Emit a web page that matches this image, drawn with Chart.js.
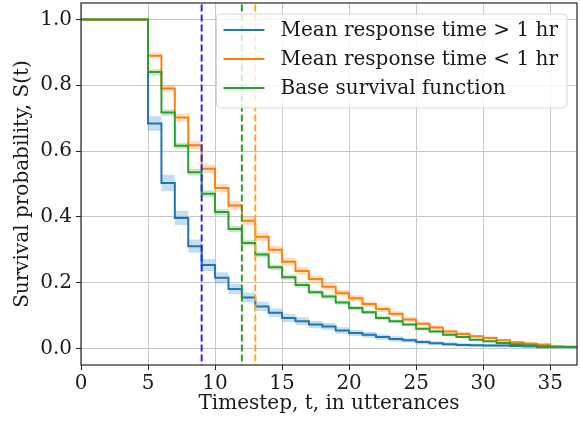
<!DOCTYPE html>
<html>
<head>
<meta charset="utf-8">
<script src="https://cdn.jsdelivr.net/npm/chart.js@4.4.0/dist/chart.umd.min.js"></script>
<style>
  html, body { margin: 0; padding: 0; background: #fff; }
  #wrap { width: 580px; height: 421px; position: relative; }
</style>
</head>
<body>
<div id="wrap"><canvas id="km"></canvas></div>
<script>
// event times (utterances)
var times = [0, 5, 6, 7, 8, 9, 10, 11, 12, 13, 14, 15, 16, 17, 18, 19, 20, 21, 22, 23, 24, 25, 26, 27, 28, 29, 30, 31, 32, 33, 34, 35, 36, 37];

// mean response time > 1 hr
var slowS = [1.0, 0.684, 0.503, 0.397, 0.311, 0.254, 0.215, 0.181, 0.155, 0.128, 0.109, 0.093, 0.083, 0.073, 0.067, 0.055, 0.047, 0.042, 0.035, 0.029, 0.025, 0.020, 0.016, 0.013, 0.011, 0.010, 0.009, 0.009, 0.008, 0.007, 0.005, 0.005, 0.005, 0.005];
var slowErr = [0, 0.022, 0.025, 0.022, 0.020, 0.018, 0.017, 0.016, 0.015, 0.014, 0.013, 0.012, 0.012, 0.011, 0.011, 0.010, 0.009, 0.009, 0.008, 0.008, 0.007, 0.007, 0.006, 0.006, 0.005, 0.005, 0.005, 0.005, 0.005, 0.005, 0.006, 0.006, 0.006, 0.006];

// mean response time < 1 hr (stops at t = 36)
var fastS = [1.0, 0.890, 0.790, 0.702, 0.618, 0.546, 0.488, 0.435, 0.388, 0.340, 0.300, 0.264, 0.236, 0.211, 0.188, 0.168, 0.153, 0.135, 0.120, 0.106, 0.088, 0.075, 0.064, 0.052, 0.044, 0.037, 0.032, 0.025, 0.019, 0.015, 0.012, 0.007, 0.005];
var fastErr = [0, 0.009, 0.011, 0.012, 0.013, 0.013, 0.013, 0.013, 0.013, 0.013, 0.012, 0.012, 0.012, 0.011, 0.011, 0.010, 0.010, 0.009, 0.009, 0.008, 0.008, 0.007, 0.007, 0.006, 0.006, 0.005, 0.005, 0.004, 0.004, 0.004, 0.003, 0.003, 0.003];

// base survival function
var baseS = [1.0, 0.840, 0.717, 0.616, 0.536, 0.470, 0.415, 0.363, 0.321, 0.286, 0.247, 0.217, 0.193, 0.171, 0.158, 0.140, 0.123, 0.110, 0.093, 0.083, 0.073, 0.060, 0.052, 0.042, 0.035, 0.027, 0.022, 0.017, 0.013, 0.010, 0.007, 0.005, 0.005, 0.005];
var baseErr = [0, 0.009, 0.010, 0.010, 0.010, 0.010, 0.010, 0.009, 0.009, 0.009, 0.008, 0.008, 0.008, 0.007, 0.007, 0.007, 0.006, 0.006, 0.006, 0.005, 0.005, 0.005, 0.004, 0.004, 0.004, 0.003, 0.003, 0.003, 0.003, 0.002, 0.002, 0.002, 0.002, 0.002];

// median survival markers
var medianTimes = [9, 12, 13];
var medianColors = ['#2626ff', '#2ca02c', '#ffa520'];

var seriesLabels = ['Mean response time > 1 hr', 'Mean response time < 1 hr', 'Base survival function'];
var seriesColors = ['#1f77b4', '#ff7f0e', '#2ca02c'];
var bandColors = ['rgba(31,119,180,0.25)', 'rgba(255,127,14,0.25)', 'rgba(44,160,44,0.25)'];

var xTicks = [0, 5, 10, 15, 20, 25, 30, 35];
var yTicks = [0.0, 0.2, 0.4, 0.6, 0.8, 1.0];

var FONT = 'DejaVu Serif';
var FS = 20;

function pts(vals, off, sign) {
  return vals.map(function(v, i) {
    return { x: times[i], y: v + (off ? sign * off[i] : 0) };
  });
}

var datasets = [];
var allS = [slowS, fastS, baseS];
var allErr = [slowErr, fastErr, baseErr];
var ord = 20;
for (var s = 0; s < 3; s++) {
  var upIdx = datasets.length;
  datasets.push({
    data: pts(allS[s], allErr[s], 1),
    stepped: true, borderWidth: 0, pointRadius: 0,
    backgroundColor: bandColors[s], fill: upIdx + 1, order: ord--
  });
  datasets.push({
    data: pts(allS[s], allErr[s], -1),
    stepped: true, borderWidth: 0, pointRadius: 0, fill: false, order: ord--
  });
  datasets.push({
    label: seriesLabels[s],
    data: pts(allS[s]),
    stepped: true, borderColor: seriesColors[s], borderWidth: 2,
    pointRadius: 0, fill: false, order: ord--
  });
}
medianTimes.forEach(function(t, i) {
  datasets.push({
    data: [{ x: t, y: -0.1 }, { x: t, y: 1.1 }],
    borderColor: medianColors[i], borderWidth: 2, borderDash: [7, 3],
    pointRadius: 0, fill: false, order: 1
  });
});

var framePlugin = {
  id: 'frame',
  afterDatasetsDraw: function(chart) {
    var a = chart.chartArea, ctx = chart.ctx;
    ctx.save();
    ctx.strokeStyle = '#262626';
    ctx.lineWidth = 1.2;
    ctx.strokeRect(a.left, a.top, a.right - a.left, a.bottom - a.top);
    ctx.restore();
  }
};

var legendPlugin = {
  id: 'mplLegend',
  afterDraw: function(chart) {
    var a = chart.chartArea, ctx = chart.ctx;
    ctx.save();
    ctx.font = FS + 'px "' + FONT + '"';
    var tw = 0;
    seriesLabels.forEach(function(l) { tw = Math.max(tw, ctx.measureText(l).width); });
    var rowH = 29, pad = 7, hLen = 41, gap = 16;
    var w = pad + hLen + gap + tw + 9;
    var h = rowH * 3 + 7;
    var x = a.right - 10 - w, y = a.top + 11;
    ctx.beginPath();
    ctx.roundRect(x, y, w, h, 4);
    ctx.fillStyle = 'rgba(255,255,255,0.8)';
    ctx.fill();
    ctx.strokeStyle = 'rgba(204,204,204,0.8)';
    ctx.lineWidth = 1;
    ctx.stroke();
    ctx.textBaseline = 'middle';
    ctx.fillStyle = '#1a1a1a';
    seriesLabels.forEach(function(l, i) {
      var cy = y + 16 + i * rowH;
      ctx.beginPath();
      ctx.moveTo(x + pad, cy);
      ctx.lineTo(x + pad + hLen, cy);
      ctx.strokeStyle = seriesColors[i];
      ctx.lineWidth = 2;
      ctx.stroke();
      ctx.fillText(l, x + pad + hLen + gap, cy + 1);
    });
    ctx.restore();
  }
};

new Chart(document.getElementById('km'), {
  type: 'line',
  data: { datasets: datasets },
  plugins: [framePlugin, legendPlugin],
  options: {
    responsive: true,
    maintainAspectRatio: false,
    animation: false,
    layout: { padding: { top: 3, right: 3, left: 0, bottom: 0 } },
    plugins: { legend: { display: false }, tooltip: { enabled: false } },
    scales: {
      x: {
        type: 'linear', min: 0, max: 37,
        afterBuildTicks: function(sc) { sc.ticks = xTicks.map(function(v) { return { value: v }; }); },
        afterFit: function(sc) { sc.height = 56; sc.paddingLeft = 0; sc.paddingRight = 0; },
        grid: { color: '#c8c8c8', lineWidth: 1, tickColor: '#262626', tickLength: 5 },
        border: { display: false },
        ticks: { color: '#1a1a1a', font: { family: FONT, size: FS }, padding: 2, maxRotation: 0,
                 callback: function(v) { return String(v); } },
        title: { display: true, text: 'Timestep, t, in utterances', color: '#1a1a1a',
                 font: { family: FONT, size: FS, lineHeight: 1.2 }, padding: { top: 0, bottom: 5 } }
      },
      y: {
        type: 'linear', min: -0.05, max: 1.05,
        afterBuildTicks: function(sc) { sc.ticks = yTicks.map(function(v) { return { value: v }; }); },
        afterFit: function(sc) { sc.width = 81; sc.paddingTop = 0; sc.paddingBottom = 0; },
        grid: { color: '#c8c8c8', lineWidth: 1, tickColor: '#262626', tickLength: 5 },
        border: { display: false },
        ticks: { color: '#1a1a1a', font: { family: FONT, size: FS }, padding: 4,
                 callback: function(v) { return v.toFixed(1); } },
        title: { display: true, text: 'Survival probability, S(t)', color: '#1a1a1a',
                 font: { family: FONT, size: FS, lineHeight: 1.2 }, padding: { top: 11, bottom: 0 } }
      }
    }
  }
});
</script>
</body>
</html>
